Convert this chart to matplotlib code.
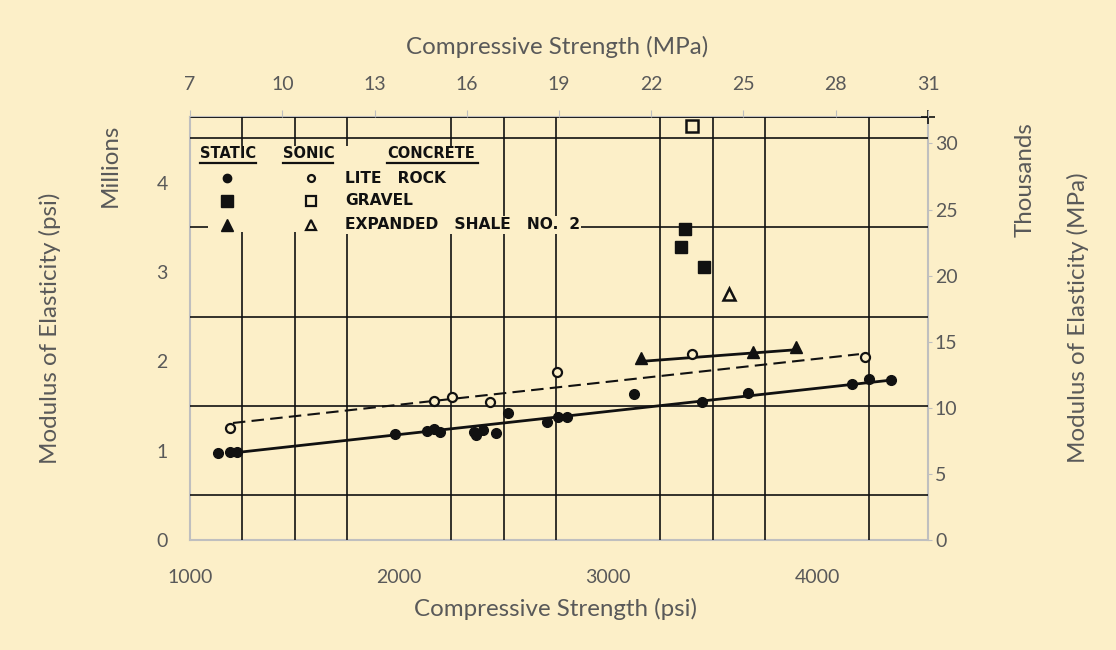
import numpy as np
import matplotlib
matplotlib.use("Agg")
import matplotlib.pyplot as plt
from matplotlib.patches import Rectangle

# --- data (psi, million psi) ---
static_rock_x = [1134, 1191, 1225, 1980, 2132, 2166, 2195, 2357, 2367, 2400, 2462, 2520,
                 2706, 2758, 2801, 3126, 3451, 3671, 4168, 4249, 4354]
static_rock_y = [0.97, 0.99, 0.98, 1.19, 1.22, 1.24, 1.21, 1.21, 1.18, 1.23, 1.20, 1.42,
                 1.32, 1.38, 1.38, 1.64, 1.55, 1.65, 1.75, 1.80, 1.79]
sonic_rock_x = [1191, 2166, 2252, 2433, 2754, 3403, 4230]
sonic_rock_y = [1.25, 1.56, 1.60, 1.55, 1.88, 2.08, 2.05]
static_gravel_x = [3370, 3351, 3461]
static_gravel_y = [3.48, 3.28, 3.06]
sonic_gravel_x = [3399]
sonic_gravel_y = [4.63]
static_shale_x = [3155, 3695, 3900]
static_shale_y = [2.04, 2.11, 2.16]
sonic_shale_x = [3580]
sonic_shale_y = [2.75]

# fitted lines drawn on the original chart
rock_fit_x = [1225, 4354]
rock_fit_y = [0.98, 1.79]
sonic_fit_x = [1205, 4200]
sonic_fit_y = [1.31, 2.08]
shale_fit_x = [3160, 3900]
shale_fit_y = [2.00, 2.13]

psi_ticks = [1000, 2000, 3000, 4000]
mpa_ticks = [7, 10, 13, 16, 19, 22, 25, 28, 31]
mpsi_ticks = [0, 1, 2, 3, 4]
gpa_ticks = [0, 5, 10, 15, 20, 25, 30]

legend_rows = ["LITE   ROCK", "GRAVEL", "EXPANDED   SHALE   NO.  2"]

BG = "#fcefc8"
GRAY = "#595959"
AXGRAY = "#bfbfbf"
INK = "#111111"

plt.rcParams['font.family'] = ['Lato', 'DejaVu Sans']

fig = plt.figure(figsize=(11.16, 6.5), dpi=100, facecolor=BG)
ax = fig.add_axes([0.1703, 0.1692, 0.6612, 0.6508], facecolor=BG)

XMIN, XMAX = 1000, 4530
YMAX = 4.735
ax.set_xlim(XMIN, XMAX)
ax.set_ylim(0, YMAX)

# scanned chart grid
ax.set_xticks(psi_ticks)
ax.set_yticks(mpsi_ticks)
ax.set_xticks(np.arange(1250, 4300, 250), minor=True)
ax.set_yticks(np.arange(0.5, 4.6, 0.5), minor=True)
ax.grid(which='minor', color=INK, lw=1.2, zorder=1)
ax.tick_params(which='minor', length=0)
ax.tick_params(axis='x', which='major', length=0, labelsize=14, labelcolor=GRAY, pad=21)
ax.tick_params(axis='y', which='major', length=0, labelsize=14, labelcolor=GRAY, pad=16)
ax.axhline(YMAX, color=INK, lw=1.3, zorder=1)
for s in ax.spines.values():
    s.set_color(AXGRAY)
    s.set_linewidth(1.5)
    s.set_zorder(0.5)

# blanked-out legend area of the scan
ax.add_patch(Rectangle((1085, 3.45), 1290, 0.96, facecolor=BG, edgecolor='none', zorder=2))

# fit lines
ax.plot(rock_fit_x, rock_fit_y, color=INK, lw=2.0, zorder=3)
ax.plot(sonic_fit_x, sonic_fit_y, color=INK, lw=1.5, ls=(0, (6, 3)), zorder=3)
ax.plot(shale_fit_x, shale_fit_y, color=INK, lw=2.0, zorder=3)

# points
ax.plot(static_rock_x, static_rock_y, 'o', color=INK, ms=7, zorder=4)
ax.plot(sonic_rock_x, sonic_rock_y, 'o', mfc=BG, mec=INK, mew=1.6, ms=6.5, zorder=4)
ax.plot(static_gravel_x, static_gravel_y, 's', color=INK, ms=8.5, zorder=4)
ax.plot(sonic_gravel_x, sonic_gravel_y, 's', mfc=BG, mec=INK, mew=1.8, ms=8, zorder=4)
ax.plot(static_shale_x, static_shale_y, '^', color=INK, ms=9, zorder=4)
ax.plot(sonic_shale_x, sonic_shale_y, '^', mfc=BG, mec=INK, mew=1.8, ms=8, zorder=4)

# legend of the scanned chart
hdr_y = 4.33
lkw = dict(fontweight='bold', color=INK, family='DejaVu Sans',
           va='center', ha='left', zorder=5)
ax.text(1048, hdr_y, "STATIC", fontsize=10.5, **lkw)
ax.text(1444, hdr_y, "SONIC", fontsize=10.5, **lkw)
ax.text(1941, hdr_y, "CONCRETE", fontsize=10.5, **lkw)
for x0, x1 in [(1048, 1315), (1444, 1683), (1941, 2376)]:
    ax.plot([x0, x1], [hdr_y - 0.105, hdr_y - 0.105], color=INK, lw=1.6, zorder=5)

row_y = [4.05, 3.80, 3.53]
fill_mk = ['o', 's', '^']
fill_ms = [6, 8, 8.5]
for y, label, mk, ms in zip(row_y, legend_rows, fill_mk, fill_ms):
    ax.plot(1177, y, mk, color=INK, ms=ms, zorder=5)
    ax.plot(1578, y, mk, mfc=BG, mec=INK, mew=1.6, ms=ms - 1, zorder=5)
    ax.text(1741, y, label, fontsize=11.2,
            bbox=dict(facecolor=BG, edgecolor='none', pad=1), **lkw)

ax.plot(XMAX, YMAX, '+', color=INK, ms=10, mew=1.2, clip_on=False, zorder=6)

# top axis in MPa
axt = ax.twiny()
axt.set_xlim(7, 31)
axt.set_xticks(mpa_ticks)
axt.tick_params(length=5, color=AXGRAY, labelsize=14, labelcolor=GRAY, pad=12)
for s in axt.spines.values():
    s.set_visible(False)

# right axis in thousands of MPa
axr = ax.twinx()
axr.set_ylim(0, 32)
axr.set_yticks(gpa_ticks)
axr.tick_params(length=3, color=AXGRAY, labelsize=14, labelcolor=GRAY, pad=2)
for s in axr.spines.values():
    s.set_visible(False)

# axis titles
tkw = dict(fontsize=17.4, color=GRAY, ha='center', va='center')
fig.text(0.499, 0.928, "Compressive Strength (MPa)", **tkw)
fig.text(0.498, 0.063, "Compressive Strength (psi)", **tkw)
fig.text(0.045, 0.495, "Modulus of Elasticity (psi)", rotation=90, **tkw)
fig.text(0.099, 0.746, "Millions", rotation=90, **tkw)
fig.text(0.966, 0.511, "Modulus of Elasticity (MPa)", rotation=90, **tkw)
fig.text(0.9185, 0.723, "Thousands", rotation=90, **tkw)

fig.savefig("out.png", dpi=100, facecolor=BG)
